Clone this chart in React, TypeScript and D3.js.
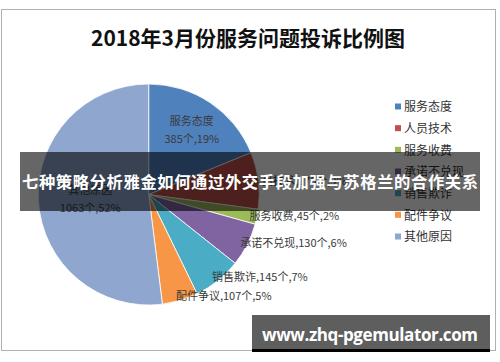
import { useRef, useEffect } from "react";
import * as d3 from "d3";

const categories = ["服务态度", "人员技术", "服务收费", "承诺不兑现", "销售欺诈", "配件争议", "其他原因"];
const counts = [385, 170, 45, 130, 145, 107, 1063];
const percents = ["19%", "9%", "2%", "6%", "7%", "5%", "52%"];
const colors = ["#4F81BD", "#C0504D", "#9BBB59", "#8064A2", "#4BACC6", "#F79646", "#8FA6CE"];
const insideLabels = ["服务态度", "其他原因"];

const title = "2018年3月份服务问题投诉比例图";
const bannerText = "七种策略分析雅金如何通过外交手段加强与苏格兰的合作关系";
const siteText = "www.zhq-pgemulator.com";

const FONT = "'Noto Sans CJK SC', 'Microsoft YaHei', sans-serif";

const App = () => {
  const svgRef = useRef<SVGSVGElement>(null);

  useEffect(() => {
    const svg = d3.select(svgRef.current);
    svg.selectAll("*").remove();

    const cx = 148.7;
    const cy = 194.5;
    const radius = 110.5;

    // chart frame
    svg
      .append("rect")
      .attr("x", 1.5)
      .attr("y", 9.5)
      .attr("width", 494)
      .attr("height", 341)
      .attr("fill", "#fff")
      .attr("stroke", "#b0b0b0")
      .attr("stroke-width", 1);

    svg
      .append("text")
      .attr("x", 248)
      .attr("y", 46)
      .attr("text-anchor", "middle")
      .attr("font-family", FONT)
      .attr("font-size", 21)
      .attr("font-weight", "bold")
      .attr("fill", "#111")
      .text(title);

    const data = categories.map((c, i) => ({ name: c, value: counts[i], pct: percents[i], color: colors[i] }));

    const pie = d3
      .pie<any>()
      .sort(null)
      .value((d) => d.value);
    const arcs = pie(data);

    const arc = d3.arc<any>().innerRadius(0).outerRadius(radius);

    const g = svg.append("g").attr("transform", `translate(${cx},${cy})`);

    g.selectAll("path.slice")
      .data(arcs)
      .enter()
      .append("path")
      .attr("class", "slice")
      .attr("d", arc)
      .attr("fill", (d) => d.data.color)
      .attr("stroke", "#fff")
      .attr("stroke-width", 0.8);

    const mid = (d: any) => (d.startAngle + d.endAngle) / 2;

    arcs.forEach((d) => {
      const a = mid(d);
      if (insideLabels.includes(d.data.name)) {
        const big = d.data.name === "其他原因";
        const r = big ? radius * 0.53 : radius * 0.7;
        const x = r * Math.sin(a);
        const y = -r * Math.cos(a) + (big ? 1 : 0);
        const t = g
          .append("text")
          .attr("text-anchor", "middle")
          .attr("font-family", FONT)
          .attr("font-size", 11)
          .attr("fill", "#3a3a3a");
        t.append("tspan").attr("x", x).attr("y", y - 5).text(d.data.name);
        t.append("tspan")
          .attr("x", x)
          .attr("y", y + 13)
          .text(`${d.data.value}个,${d.data.pct}`);
      } else {
        const r = radius * 0.96;
        const x = r * Math.sin(a) - 3;
        const y = -r * Math.cos(a);
        g.append("text")
          .attr("x", x)
          .attr("y", y)
          .attr("dy", "0.35em")
          .attr("font-family", FONT)
          .attr("font-size", 11)
          .attr("fill", "#3a3a3a")
          .text(`${d.data.name},${d.data.value}个,${d.data.pct}`);
      }
    });

    // legend
    const legendY = d3
      .scalePoint<string>()
      .domain(categories)
      .range([107, 237]);

    const legend = svg
      .append("g")
      .selectAll("g")
      .data(data)
      .enter()
      .append("g")
      .attr("transform", (d) => `translate(395,${legendY(d.name)})`);

    legend
      .append("rect")
      .attr("x", 0)
      .attr("y", -3.5)
      .attr("width", 6)
      .attr("height", 6)
      .attr("fill", (d) => d.color);

    legend
      .append("text")
      .attr("x", 9)
      .attr("y", 0)
      .attr("dy", "0.36em")
      .attr("font-family", FONT)
      .attr("font-size", 12)
      .attr("fill", "#333")
      .text((d) => d.name);

    // overlay banner
    svg
      .append("rect")
      .attr("x", 20)
      .attr("y", 152)
      .attr("width", 460)
      .attr("height", 59)
      .attr("fill", "rgba(0,0,0,0.6)");

    svg
      .append("text")
      .attr("x", 250)
      .attr("y", 188)
      .attr("text-anchor", "middle")
      .attr("font-family", FONT)
      .attr("font-size", 16.3)
      .attr("font-weight", "bold")
      .attr("fill", "#fff")
      .attr("textLength", 456)
      .text(bannerText);

    // site watermark
    svg
      .append("rect")
      .attr("x", 252)
      .attr("y", 315)
      .attr("width", 238)
      .attr("height", 37)
      .attr("fill", "rgba(0,0,0,0.63)");

    svg
      .append("rect")
      .attr("x", 252)
      .attr("y", 349)
      .attr("width", 238)
      .attr("height", 3)
      .attr("fill", "#000");

    svg
      .append("text")
      .attr("x", 370)
      .attr("y", 341)
      .attr("text-anchor", "middle")
      .attr("font-family", "'Open Sans', 'DejaVu Sans', sans-serif")
      .attr("font-size", 17)
      .attr("font-weight", "bold")
      .attr("fill", "#fff")
      .attr("textLength", 216)
      .text(siteText);
  }, []);

  return (
    <svg
      ref={svgRef}
      width={500}
      height={362}
      style={{ position: "absolute", left: 0, top: 0, display: "block", background: "#fff" }}
    ></svg>
  );
};

export default App;
